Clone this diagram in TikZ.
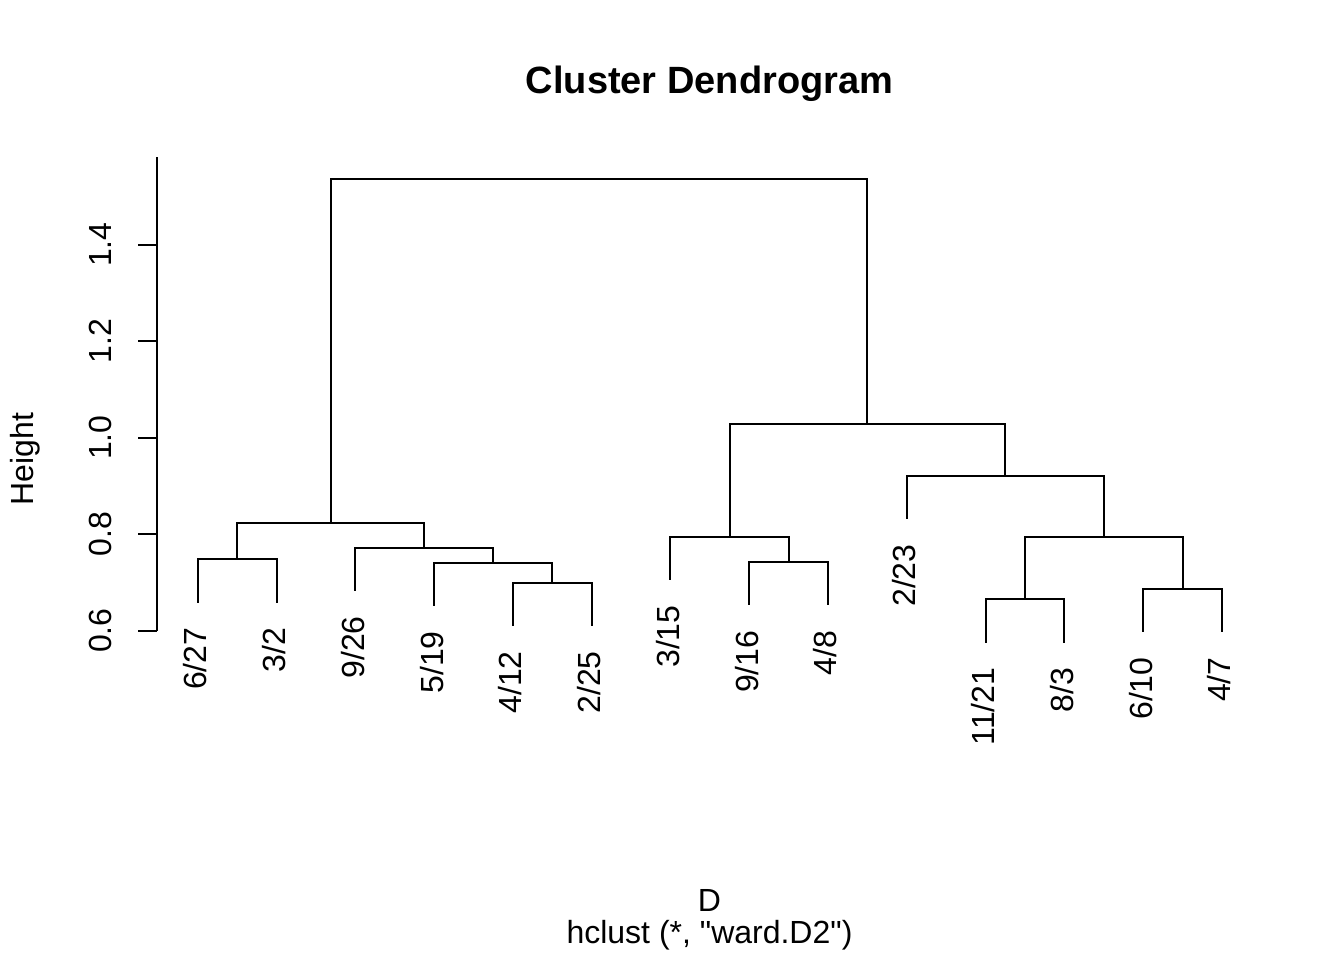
\documentclass[tikz,border=0pt]{standalone}
\usepackage{fontspec}
\setmainfont{Liberation Sans}
\newfontfamily\rawsans{Liberation Sans}
\begin{document}
\begin{tikzpicture}[x=1pt,y=-1pt,
  tree/.style={line width=2pt, line cap=rect},
  axisline/.style={line width=2pt},
  leaflab/.style={rotate=90, anchor=east, inner sep=0pt, font=\fontsize{32}{38}\selectfont},
  ticklab/.style={rotate=90, anchor=south, inner sep=0pt, font=\fontsize{32}{38}\selectfont},
  plaintext/.style={inner sep=0pt, anchor=base, font=\fontsize{32}{38}\selectfont},
  titletext/.style={inner sep=0pt, anchor=base, font=\fontsize{38}{44}\selectfont\bfseries}]
\useasboundingbox (0,0) rectangle (1344,960);
\fill[white] (0,0) rectangle (1344,960);

% leaf ends
\coordinate (l1) at (197.7,601.5);
\coordinate (l2) at (276.5,601.5);
\coordinate (l3) at (355.3,590.0);
\coordinate (l4) at (434.1,605.2);
\coordinate (l5) at (512.9,625.2);
\coordinate (l6) at (591.7,625.2);
\coordinate (l7) at (670.4,579.3);
\coordinate (l8) at (749.2,604.4);
\coordinate (l9) at (828.0,604.4);
\coordinate (l10) at (906.8,518.3);
\coordinate (l11) at (985.6,641.5);
\coordinate (l12) at (1064.4,641.5);
\coordinate (l13) at (1143.2,631.3);
\coordinate (l14) at (1222.0,631.3);

% merges
\coordinate (mA) at (237.1,559.0);
\coordinate (mB) at (552.3,582.7);
\coordinate (mC) at (493.2,562.7);
\coordinate (mD) at (424.25,547.5);
\coordinate (mE) at (330.7,522.9);
\coordinate (mF) at (788.6,561.9);
\coordinate (mG) at (729.5,536.8);
\coordinate (mH) at (1025.0,599.0);
\coordinate (mI) at (1182.6,588.8);
\coordinate (mJ) at (1103.8,537.0);
\coordinate (mK) at (1005.3,475.8);
\coordinate (mL) at (867.4,424.0);
\coordinate (mM) at (599.0,179.0);

\draw[tree] (l1) |- (mA) -| (l2);
\draw[tree] (l5) |- (mB) -| (l6);
\draw[tree] (l4) |- (mC) -| (mB);
\draw[tree] (l3) |- (mD) -| (mC);
\draw[tree] (mA) |- (mE) -| (mD);
\draw[tree] (l8) |- (mF) -| (l9);
\draw[tree] (l7) |- (mG) -| (mF);
\draw[tree] (l11) |- (mH) -| (l12);
\draw[tree] (l13) |- (mI) -| (l14);
\draw[tree] (mH) |- (mJ) -| (mI);
\draw[tree] (l10) |- (mK) -| (mJ);
\draw[tree] (mG) |- (mL) -| (mK);
\draw[tree] (mE) |- (mM) -| (mL);

% leaf labels
\node[leaflab] (t1) at ([shift={(-2.5,26)}]l1) {6/27};
\node[leaflab] (t2) at ([shift={(-2.5,26)}]l2) {3/2};
\node[leaflab] (t3) at ([shift={(-2.5,26)}]l3) {9/26};
\node[leaflab] (t4) at ([shift={(-2.5,26)}]l4) {5/19};
\node[leaflab] (t5) at ([shift={(-2.5,26)}]l5) {4/12};
\node[leaflab] (t6) at ([shift={(-2.5,26)}]l6) {2/25};
\node[leaflab] (t7) at ([shift={(-2.5,26)}]l7) {3/15};
\node[leaflab] (t8) at ([shift={(-2.5,26)}]l8) {9/16};
\node[leaflab] (t9) at ([shift={(-2.5,26)}]l9) {4/8};
\node[leaflab] (t10) at ([shift={(-2.5,26)}]l10) {2/23};
\node[leaflab] (t11) at ([shift={(-2.5,26)}]l11) {11/21};
\node[leaflab] (t12) at ([shift={(-2.5,26)}]l12) {8/3};
\node[leaflab] (t13) at ([shift={(-2.5,26)}]l13) {6/10};
\node[leaflab] (t14) at ([shift={(-2.5,26)}]l14) {4/7};

% axis
\draw[axisline] (157,157.3) -- (157,630.7);
\foreach \yy/\lab in {630.7/0.6, 534.2/0.8, 437.7/1.0, 341.2/1.2, 244.7/1.4}{
  \draw[axisline] (138,\yy) -- (157,\yy);
  \node[ticklab] at (111.7,\yy) {\lab};
}

% texts
\node[titletext] (title) at (709.5,93.3) {Cluster Dendrogram};
\node[plaintext] (xlab) at (709.5,911) {D};
\node[plaintext, font=\fontsize{32}{38}\rawsans] (sub) at (709.5,943) {hclust (*, "ward.D2")};
\node[ticklab, anchor=base] (ylab) at (33,459) {Height};
\end{tikzpicture}
\end{document}
